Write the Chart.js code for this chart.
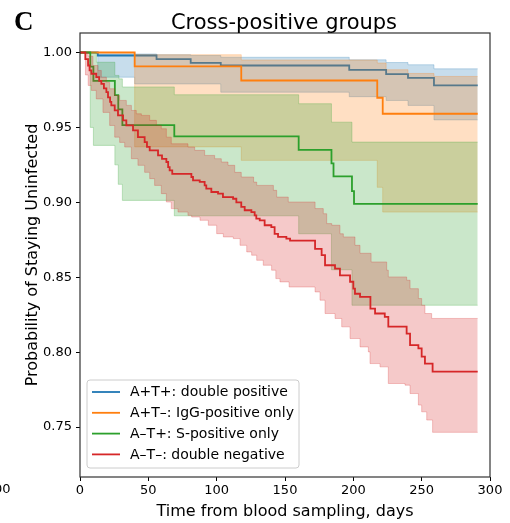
<!DOCTYPE html>
<html><head><meta charset="utf-8">
<script src="https://cdn.jsdelivr.net/npm/chart.js@4/dist/chart.umd.min.js"></script>
<style>html,body{margin:0;padding:0;background:#fff;overflow:hidden}#wrap{width:510px;height:523px;position:relative}</style>
</head><body><div id="wrap"><canvas id="c" width="510" height="523"></canvas></div>
<script>
// ---- tick labels ----
const xTicks = [0, 50, 100, 150, 200, 250, 300];
const yTicks = [0.75, 0.80, 0.85, 0.90, 0.95, 1.00];
const seriesLabels = ["A+T+: double positive", "A+T–: IgG-positive only", "A–T+: S-positive only", "A–T–: double negative"];

// ---- A+T+ (blue) ----
const blueT  = [0, 13, 56, 81, 103, 197, 224, 240, 259, 291];
const blueS  = [1.0, 0.998, 0.9955, 0.993, 0.9913, 0.9884, 0.9856, 0.983, 0.978, 0.978];
const blueUpT = [0, 13, 56, 81, 103, 197, 224, 240, 259, 291];
const blueUp  = [1.0, 0.999, 0.9985, 0.998, 0.9968, 0.9951, 0.9933, 0.9918, 0.9891, 0.9891];
const blueLoT = [0, 13, 40, 103, 197, 224, 240, 259, 291];
const blueLo  = [1.0, 0.9835, 0.979, 0.9735, 0.9705, 0.968, 0.9647, 0.955, 0.955];

// ---- A+T- (orange) ----
const orangeT  = [0, 40, 118, 217.5, 221.5, 291];
const orangeS  = [1.0, 0.9907, 0.9813, 0.9698, 0.9591, 0.9591];
const orangeUpT = [0, 40, 118, 217.5, 224, 240, 259, 291];
const orangeUp  = [1.0, 0.9985, 0.995, 0.993, 0.9885, 0.986, 0.984, 0.984];
const orangeLoT = [0, 40, 118, 217.5, 221.5, 291];
const orangeLo  = [1.0, 0.937, 0.928, 0.910, 0.8935, 0.8935];

// ---- A-T+ (green) ----
const greenT  = [0, 7.5, 9.8, 25.5, 28, 31, 69, 160, 184, 185.5, 199, 200.5, 291];
const greenS  = [1.0, 0.9905, 0.981, 0.9715, 0.962, 0.9515, 0.944, 0.935, 0.926, 0.9173, 0.9075, 0.899, 0.899];
const greenUpT = [0, 12, 25.5, 28.5, 31, 69, 160, 184, 199, 291];
const greenUp  = [1.0, 0.9935, 0.9847, 0.9824, 0.977, 0.9718, 0.9658, 0.9535, 0.9402, 0.9402];
const greenLoT = [0, 7.5, 9.8, 25.5, 28, 31, 69, 160, 184, 199, 291];
const greenLo  = [1.0, 0.950, 0.938, 0.925, 0.912, 0.9013, 0.891, 0.879, 0.855, 0.8313, 0.8313];

// ---- A-T- (red) ----
const redT = [0, 3.9, 5.9, 7, 8.3, 11.9, 14, 15.6, 17.5, 19.3, 20.5, 22, 22.9, 25.4, 27.8, 31.5, 33.9, 38.8, 42.4, 47.3, 49, 51, 57.1, 60, 63.2, 64.5, 65.6, 67.5, 81.5, 82.7, 87.6, 91.2, 92.4, 96.1, 101, 104.6, 112, 114.4, 118, 120.5, 125.4, 127.8, 129, 131.5, 135.1, 140, 142.4, 144.9, 151, 153.7, 172, 176.8, 179.3, 186.6, 190.2, 197.6, 200, 201.2, 204.9, 212.5, 215.9, 223, 225.6, 239, 241.5, 247.6, 250, 252.4, 258, 291];
const redS = [1.0, 0.9955, 0.9913, 0.988, 0.9858, 0.9835, 0.981, 0.979, 0.976, 0.9735, 0.970, 0.967, 0.9647, 0.9613, 0.958, 0.9547, 0.9513, 0.948, 0.9435, 0.9402, 0.937, 0.9347, 0.9313, 0.929, 0.9269, 0.9235, 0.9213, 0.919, 0.9169, 0.9147, 0.9136, 0.9113, 0.9091, 0.9069, 0.9058, 0.9035, 0.9024, 0.900, 0.8969, 0.8947, 0.8935, 0.8913, 0.8891, 0.888, 0.8847, 0.8835, 0.879, 0.8769, 0.8758, 0.8745, 0.869, 0.8647, 0.858, 0.8558, 0.8513, 0.847, 0.8424, 0.839, 0.8369, 0.829, 0.8258, 0.8235, 0.817, 0.8124, 0.8047, 0.8025, 0.797, 0.7924, 0.787, 0.787];
const redUpT = [0, 6, 9.5, 13.2, 15.6, 19.3, 21.7, 25.4, 29, 33.9, 37.6, 41.2, 44.9, 51, 55.9, 59.5, 63.2, 66.8, 79, 83.9, 91.2, 98.5, 103.4, 108.3, 113.2, 118, 127, 129.3, 141.5, 143.9, 152.4, 172, 178, 180.5, 184.2, 190.2, 192.7, 201.2, 204.9, 213, 224.4, 225.6, 239, 241.5, 247.6, 250, 252.4, 257.3, 291];
const redUp  = [1.0, 0.9975, 0.9913, 0.988, 0.9835, 0.980, 0.9758, 0.9713, 0.968, 0.9647, 0.9613, 0.9591, 0.958, 0.9547, 0.9513, 0.9491, 0.9435, 0.9391, 0.9369, 0.9347, 0.9313, 0.9291, 0.9269, 0.9247, 0.920, 0.9169, 0.9135, 0.9113, 0.908, 0.9035, 0.9002, 0.8958, 0.8924, 0.8858, 0.8847, 0.879, 0.8769, 0.8713, 0.866, 0.8602, 0.8547, 0.8502, 0.848, 0.8424, 0.8358, 0.8313, 0.8258, 0.8225, 0.8225];
const redLoT = [0, 4, 6, 8.3, 11.9, 16.8, 21.7, 25.4, 29, 32.7, 37.6, 42.4, 47.3, 51, 54.6, 59.5, 63.2, 66.8, 71.7, 79, 81.7, 87.8, 93.9, 100, 104.9, 112.2, 117.1, 122, 125.6, 129.3, 134.1, 140.2, 143.3, 146.3, 153, 172, 175.6, 179.3, 186.6, 191.5, 197.6, 204.9, 211, 212.2, 219.5, 225.6, 237.8, 241.5, 247.6, 250, 253.7, 258, 291];
const redLo  = [1.0, 0.985, 0.978, 0.9747, 0.969, 0.960, 0.9513, 0.9435, 0.940, 0.9369, 0.9291, 0.9247, 0.920, 0.9158, 0.9113, 0.9058, 0.9002, 0.8958, 0.8935, 0.8913, 0.8902, 0.888, 0.8847, 0.8791, 0.8769, 0.8758, 0.8713, 0.8669, 0.8647, 0.8613, 0.858, 0.8547, 0.8491, 0.8469, 0.8435, 0.8402, 0.8347, 0.8258, 0.8225, 0.8169, 0.8091, 0.8035, 0.8002, 0.7924, 0.7902, 0.7791, 0.778, 0.7724, 0.7647, 0.7602, 0.7547, 0.7465, 0.7465];

const COLORS = ['#1f77b4', '#ff7f0e', '#2ca02c', '#d62728'];
const FILLS = ['rgba(31,119,180,0.25)', 'rgba(255,127,14,0.25)', 'rgba(44,160,44,0.25)', 'rgba(214,39,40,0.25)'];
const FONT = "'DejaVu Sans', sans-serif";

const pts = (t, s) => t.map((x, i) => ({x: x, y: s[i]}));
function groupSets(i, t, s, ut, us, lt, ls) {
  return [
    {label: seriesLabels[i], data: pts(t, s), borderColor: COLORS[i], borderWidth: 1.8, stepped: 'before', pointRadius: 0, fill: false},
    {label: seriesLabels[i] + ' upper CI', data: pts(ut, us), borderColor: FILLS[i], borderWidth: 1, backgroundColor: FILLS[i], stepped: 'before', pointRadius: 0, fill: '+1'},
    {label: seriesLabels[i] + ' lower CI', data: pts(lt, ls), borderColor: FILLS[i], borderWidth: 1, stepped: 'before', pointRadius: 0, fill: false}
  ];
}
// order: later groups first (index 0 drawn last, on top)
const datasets = [].concat(
  groupSets(3, redT, redS, redUpT, redUp, redLoT, redLo),
  groupSets(2, greenT, greenS, greenUpT, greenUp, greenLoT, greenLo),
  groupSets(1, orangeT, orangeS, orangeUpT, orangeUp, orangeLoT, orangeLo),
  groupSets(0, blueT, blueS, blueUpT, blueUp, blueLoT, blueLo)
);

const decor = {
  id: 'decor',
  afterDatasetsDraw(chart) {
    const ctx = chart.ctx, a = chart.chartArea;
    ctx.save();
    // frame
    ctx.strokeStyle = '#333';
    ctx.lineWidth = 1.2;
    ctx.strokeRect(a.left, a.top, a.right - a.left, a.bottom - a.top);
    // legend
    const lx = 87, ly = 380, lw = 212, lh = 88, r = 3;
    ctx.beginPath();
    ctx.moveTo(lx + r, ly); ctx.lineTo(lx + lw - r, ly); ctx.quadraticCurveTo(lx + lw, ly, lx + lw, ly + r);
    ctx.lineTo(lx + lw, ly + lh - r); ctx.quadraticCurveTo(lx + lw, ly + lh, lx + lw - r, ly + lh);
    ctx.lineTo(lx + r, ly + lh); ctx.quadraticCurveTo(lx, ly + lh, lx, ly + lh - r);
    ctx.lineTo(lx, ly + r); ctx.quadraticCurveTo(lx, ly, lx + r, ly);
    ctx.closePath();
    ctx.fillStyle = 'rgba(255,255,255,0.8)';
    ctx.fill();
    ctx.strokeStyle = '#cccccc';
    ctx.lineWidth = 1;
    ctx.stroke();
    ctx.font = '14px ' + FONT;
    ctx.textBaseline = 'middle';
    ctx.textAlign = 'left';
    for (let i = 0; i < 4; i++) {
      const y = 392 + i * 20.8;
      ctx.strokeStyle = COLORS[i];
      ctx.lineWidth = 1.8;
      ctx.beginPath(); ctx.moveTo(92, y); ctx.lineTo(120, y); ctx.stroke();
      ctx.fillStyle = '#000';
      ctx.fillText(seriesLabels[i], 130, y + 0.5);
    }
    ctx.restore();
  },
  afterDraw(chart) {
    const ctx = chart.ctx;
    ctx.save();
    ctx.fillStyle = '#000';
    ctx.textBaseline = 'alphabetic';
    ctx.textAlign = 'center';
    ctx.font = '21px ' + FONT;
    ctx.fillText('Cross-positive groups', 284, 28.5);
    ctx.textAlign = 'left';
    ctx.font = 'bold 27px "Liberation Serif", serif';
    ctx.fillText('C', 14, 30);
    ctx.textAlign = 'right';
    ctx.font = '13px ' + FONT;
    ctx.fillText('300', 10.5, 493);
    ctx.restore();
  }
};

new Chart(document.getElementById('c'), {
  type: 'line',
  data: {datasets: datasets},
  options: {
    responsive: false,
    animation: false,
    devicePixelRatio: 1,
    layout: {padding: {left: 0, right: 20, top: 33, bottom: 0}},
    plugins: {legend: {display: false}, tooltip: {enabled: false}},
    scales: {
      x: {
        type: 'linear', min: 0, max: 300,
        afterBuildTicks: s => { s.ticks = xTicks.map(v => ({value: v})); },
        afterFit: s => { s.height = 46; },
        ticks: {color: '#000', font: {size: 13, family: FONT}, padding: 2, maxRotation: 0, autoSkip: false, callback: v => String(v)},
        grid: {drawOnChartArea: false, drawTicks: true, tickLength: 4, color: '#000', tickWidth: 1},
        border: {display: false},
        title: {display: true, text: 'Time from blood sampling, days', color: '#000', font: {size: 16, family: FONT}, padding: {top: 0, bottom: 2}}
      },
      y: {
        type: 'linear', min: 0.7167, max: 1.013,
        afterBuildTicks: s => { s.ticks = yTicks.map(v => ({value: v})); },
        afterFit: s => { s.width = 80; },
        ticks: {color: '#000', font: {size: 13, family: FONT}, padding: 4, autoSkip: false, callback: v => Number(v).toFixed(2)},
        grid: {drawOnChartArea: false, drawTicks: true, tickLength: 4, color: '#000', tickWidth: 1},
        border: {display: false},
        title: {display: true, text: 'Probability of Staying Uninfected', color: '#000', font: {size: 16, family: FONT}, padding: {top: 23, bottom: 0}}
      }
    }
  },
  plugins: [decor]
});
</script>
</body></html>
